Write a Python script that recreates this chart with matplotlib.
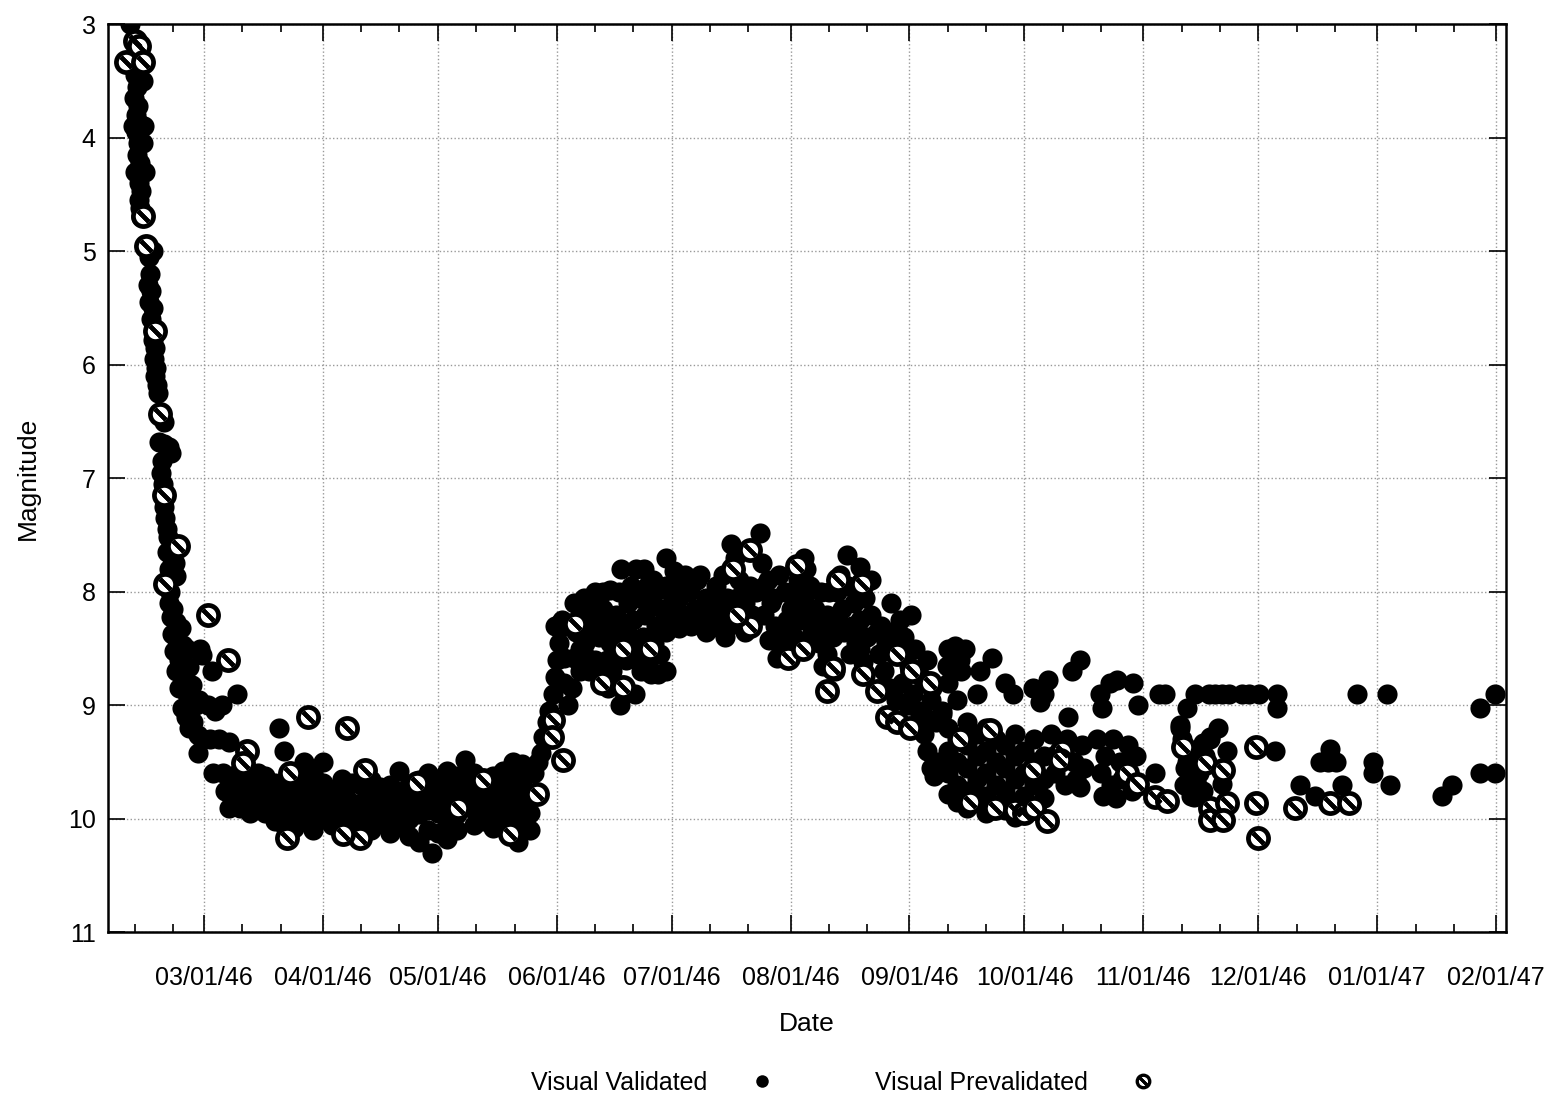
import numpy as np
import datetime
import matplotlib
matplotlib.use('Agg')
import matplotlib.pyplot as plt
import matplotlib.dates as mdates
from matplotlib.lines import Line2D

plt.rcParams['font.family'] = ['Liberation Sans', 'DejaVu Sans']

# data: t = days after 1946-02-01, mag = visual magnitude ---------------

# visual validated
val_t = [
    8.7, 10.0, 10.6, 9.8, 10.9, 10.2, 11.3, 10.4, 10.9, 10.6, 11.2, 10.8, 11.1, 11.5, 11.0, 11.4, 11.6,
    12.0, 12.3, 9.5, 12.5, 9.9, 12.2,
    12.8, 14.8, 13.6, 13.9, 13.5, 14.2, 13.8, 14.6, 14.1, 14.9,
    14.6, 15.3, 14.9, 15.6, 15.2, 15.8, 16.0, 17.5,
    16.3, 17.6, 18.8, 19.5, 17.0, 16.9, 17.4, 17.6, 17.9, 18.3, 18.6,
    18.3, 19.6, 20.4, 19.0, 20.8,
    18.6, 19.2, 18.8, 19.9, 19.3, 20.7, 22.0, 19.6, 21.0, 22.6, 20.2, 23.6, 21.6, 24.0, 20.6, 22.6,
    25.0, 21.6, 23.5, 24.6, 22.2, 26.0, 23.2, 25.2, 24.2, 26.5,
    27.0, 27.6, 30.0, 36.5, 26.8, 29.0, 31.0, 32.6,
    27.6, 29.6, 32.0, 34.6, 26.4, 30.4, 47.5, 48.8,
    33.0, 35.0, 37.0, 39.0, 41.0, 33.5, 36.0, 38.5, 41.0, 34.5, 37.5, 40.0, 43.0, 42.0,
    # plateau
    44, 44, 44, 46.5, 46.5, 46.5, 49, 49, 49, 51.5, 51.5, 51.5, 51.5,
    54, 54, 54, 54, 56.5, 56.5, 56.5, 56.5, 59, 59, 59, 59, 61.5, 61.5, 61.5,
    64, 64, 64, 64, 66.5, 66.5, 66.5, 69, 69, 69, 71.5, 71.5, 71.5, 71.5,
    74, 74, 74, 76.5, 76.5, 76.5, 76.5, 79, 79, 79, 79, 81.5, 81.5, 81.5, 81.5,
    84, 84, 84, 84, 86.5, 86.5, 86.5, 86.5, 87.5, 89, 89, 89, 89,
    91.5, 91.5, 91.5, 91.5, 91.5, 94, 94, 94, 94, 96, 96,
    98.5, 98.5, 98.5, 98.5, 101, 101, 101, 103.5, 103.5, 103.5, 103.5,
    106, 106, 106, 106, 108.5, 108.5, 108.5, 108.5, 108.5, 110, 111, 111, 111, 111,
    113, 113, 113, 113,
    45.3, 47.8, 50.3, 52.8, 55.3, 57.8, 60.3, 62.8, 65.3, 67.8, 70.3, 72.8, 75.3, 77.8,
    80.3, 82.8, 85.3, 87.8, 90.3, 92.8, 95.3, 97.8, 100.3, 102.8, 105.3, 107.8, 110.3, 112.3,
    # rise
    114, 115, 116, 116.5, 117.5, 118, 118.5, 119, 119.5, 120, 120.5, 119.5, 120.5, 121.5,
    122.5, 122, 124.5, 122, 124, 123, 124.5, 125, 126, 126,
    126.5, 128, 129.5, 131, 132.5, 134, 135.5, 127, 128.5, 130, 131.5, 133, 134.5, 136,
    129, 132, 135, 127.5, 133.5, 132.2, 134, 136.2, 136.8, 140.8, 142.8, 148.5, 136.5, 140.3,
    138.5, 140, 141.5, 143, 144.5, 146, 147.5, 139, 141, 142.5, 144, 145.5, 147, 148.5,
    142, 144.5, 146.5, 148.5, 139.5, 143.5, 146.5,
    148.5, 150, 151.5, 153, 154.5, 156, 157.5, 159, 149, 152, 155, 158, 150.5, 153.5, 156.5,
    160, 161.5, 163, 164.5, 166, 167.5, 169, 170.5, 161, 162.5, 165, 168, 163.5, 166.5, 165.5, 173.0,
    173.5, 175, 176.5, 178, 179.5, 181, 174, 177, 180, 175.5, 178.5, 177.5,
    183, 184.5, 186, 187.5, 189, 190.5, 183.5, 186.5, 189.5, 185, 184.6,
    188.5, 190.5, 192, 189.5, 192.5, 195.7, 199.1,
    193, 194.5, 196, 197.5, 199, 200.5, 202, 203.5, 195, 198, 201, 204, 196.5, 200, 193.5, 207.3,
    127, 130, 133, 137, 138, 140, 145, 150, 152, 155, 157, 159, 162, 164, 167, 169, 171,
    172, 174, 176, 179, 182, 182, 185, 188, 191, 194, 197, 199, 202,
    # decline from maximum
    204.5, 206, 207.5, 209, 210.5, 212, 213.5, 215, 216.5, 218, 205.5, 207, 208.5, 210, 211.5,
    213, 214.5, 216, 217.5, 219, 220.5, 209.5, 212.5,
    215.8, 216.5, 217.5, 218.5, 219.5,
    222, 224, 226.5, 225.2, 225.5, 221.8, 222, 230.4, 233.5, 229.6, 224.4, 220.5, 236.9, 239,
    244.2, 246, 248.1, 247, 254.4, 256.5, 253.4,
    264.3, 266.1, 261.7, 270.3, 271.6, 262.2, 277.0, 278.7, 282.6,
    222, 222, 222, 222, 224.5, 224.5, 224.5, 224.5, 227, 227, 227, 227, 227,
    229.5, 229.5, 229.5, 229.5, 232, 232, 232, 232, 232, 234.5, 234.5, 234.5, 234.5,
    237, 237, 237, 237, 239.5, 239.5, 239.5, 239.5, 239.5, 242, 242, 242, 242,
    244.5, 244.5, 244.5, 244.5, 247, 247, 247,
    249, 251, 253, 255, 257, 250, 252.5, 255.5, 257.5, 249.5, 256.5,
    261, 263, 265, 267, 269, 271, 262, 264.5, 267.5, 270, 262.5, 266, 276,
    283, 284.5, 286, 287.5, 289, 290.5, 283.5, 285.5, 288, 284,
    292.5, 290.4, 288.6, 294.9, 282.6, 285.5, 287.0, 293.6, 286.1, 288.6,
    # late scattered observations
    286.4, 290.1, 291.7, 293.5, 295.3, 298.7, 300.5, 303.3, 307.8, 284.4, 307.8,
    328.7, 336.6, 360.8, 364.7, 307.3, 313.9, 317.8, 321.7, 319.1, 321.2, 323.3, 324.8,
    332.9, 332.9, 337.3, 350.9, 353.5, 360.8, 364.7,
]
val_mag = [
    3.0, 3.45, 3.55, 3.65, 3.72, 3.8, 3.88, 3.95, 4.05, 4.15, 4.22, 4.3, 4.4, 4.47, 4.55, 4.62, 4.7,
    3.5, 3.9, 3.9, 4.3, 4.3, 4.05,
    4.95, 5.0, 5.05, 5.2, 5.3, 5.35, 5.45, 5.5, 5.6, 5.68,
    5.78, 5.85, 5.95, 6.03, 6.1, 6.18, 6.25, 6.5,
    6.68, 6.7, 6.72, 6.78, 6.85, 6.95, 7.05, 7.25, 7.35, 7.45, 7.52,
    7.65, 7.7, 7.75, 7.8, 7.86,
    7.92, 8.0, 8.1, 8.15, 8.22, 8.27, 8.32, 8.37, 8.42, 8.47, 8.52, 8.5, 8.6, 8.66, 8.7, 8.76,
    8.82, 8.85, 8.9, 8.96, 9.02, 9.0, 9.1, 9.15, 9.2, 9.26,
    8.5, 8.56, 8.7, 8.9, 8.95, 9.0, 9.05, 9.0,
    9.3, 9.3, 9.3, 9.32, 9.42, 9.6, 9.2, 9.4,
    9.6, 9.65, 9.6, 9.65, 9.7, 9.75, 9.8, 9.75, 9.85, 9.9, 9.9, 9.95, 9.8, 9.6,
    # plateau
    9.62, 9.78, 9.95, 9.68, 9.85, 10.02, 9.72, 9.9, 10.05, 9.65, 9.82, 9.98, 10.08,
    9.5, 9.7, 9.88, 10.02, 9.6, 9.8, 9.95, 10.1, 9.5, 9.68, 9.85, 10.0, 9.75, 9.9, 10.05,
    9.65, 9.82, 9.98, 10.12, 9.68, 9.86, 10.05, 9.7, 9.9, 10.02, 9.66, 9.8, 9.95, 10.1,
    9.72, 9.88, 10.04, 9.7, 9.85, 10.0, 10.12, 9.58, 9.78, 9.92, 10.06, 9.7, 9.85, 10.0, 10.15,
    9.66, 9.82, 9.96, 10.2, 9.6, 9.78, 9.92, 10.1, 10.3, 9.65, 9.8, 9.95, 10.12,
    9.58, 9.75, 9.9, 10.06, 10.18, 9.62, 9.8, 9.96, 10.1, 9.48, 9.68,
    9.6, 9.78, 9.92, 10.05, 9.7, 9.86, 10.02, 9.62, 9.8, 9.95, 10.08,
    9.58, 9.72, 9.88, 10.02, 9.5, 9.65, 9.82, 9.98, 10.12, 10.2, 9.52, 9.7, 9.88, 10.05,
    9.6, 9.78, 9.95, 10.1,
    9.88, 9.78, 9.95, 9.75, 9.62, 9.88, 9.78, 9.92, 9.72, 9.95, 9.82, 9.72, 9.95, 9.8,
    9.9, 9.76, 9.88, 9.72, 9.96, 9.7, 9.88, 9.72, 9.95, 9.72, 9.9, 9.76, 9.95, 9.85,
    # rise
    9.6, 9.5, 9.42, 9.28, 9.15, 9.05, 9.2, 8.9, 8.75, 8.6, 8.45, 8.3, 8.28, 8.25,
    8.3, 8.58, 8.58, 8.8, 8.85, 9.0, 8.1, 8.35, 8.5, 8.7,
    8.2, 8.35, 8.25, 8.4, 8.3, 8.45, 8.2, 8.55, 8.7, 8.6, 8.75, 8.6, 8.7, 8.55,
    8.15, 8.15, 8.35, 8.45, 8.85, 8.0, 7.98, 8.0, 7.8, 7.8, 7.8, 7.7, 9.0, 8.9,
    8.1, 8.25, 8.05, 8.2, 8.1, 8.3, 8.15, 8.4, 8.55, 8.4, 8.6, 8.45, 8.55, 8.35,
    8.7, 8.72, 8.72, 8.7, 7.95, 7.95, 7.98,
    7.95, 8.1, 7.9, 8.2, 8.0, 8.15, 7.85, 8.05, 8.25, 8.32, 8.3, 8.28, 7.82, 7.85, 7.9,
    8.15, 7.95, 8.25, 8.05, 8.2, 7.9, 8.1, 7.95, 8.3, 8.32, 8.3, 8.28, 7.85, 7.7, 7.58, 7.48,
    7.75, 7.9, 8.05, 7.85, 8.0, 8.15, 8.2, 8.3, 8.25, 8.42, 8.5, 8.58,
    7.9, 8.05, 7.95, 8.15, 8.0, 8.2, 8.25, 8.35, 8.3, 7.8, 7.7,
    8.45, 8.55, 8.4, 8.65, 8.7, 7.68, 7.78,
    8.0, 8.15, 7.95, 8.1, 8.25, 8.05, 8.2, 8.35, 8.35, 8.45, 8.4, 8.55, 8.55, 8.62, 8.25, 8.1,
    8.05, 8.0, 8.25, 8.3, 8.6, 8.45, 7.9, 8.3, 8.05, 7.95, 8.25, 8.35, 8.1, 8.4, 8.05, 8.35, 8.2,
    8.0, 7.95, 8.1, 8.35, 8.0, 8.4, 8.2, 8.3, 8.0, 7.85, 8.3, 8.5, 7.9,
    # decline from maximum
    8.3, 8.45, 8.35, 8.55, 8.4, 8.65, 8.5, 8.75, 8.6, 8.85, 8.7, 8.85, 8.95, 8.8, 9.0,
    8.9, 9.05, 9.1, 8.95, 9.15, 9.05, 8.25, 8.2,
    9.25, 9.4, 9.55, 9.62, 9.5,
    8.5, 8.48, 8.5, 8.6, 8.7, 8.65, 8.8, 8.7, 8.58, 8.9, 8.95, 9.08, 8.8, 8.9,
    8.85, 8.97, 8.78, 8.9, 8.7, 8.6, 9.1,
    8.8, 8.78, 8.9, 8.8, 9.0, 9.02, 8.9, 8.9, 9.17,
    9.2, 9.4, 9.6, 9.78, 9.3, 9.5, 9.7, 9.85, 9.15, 9.35, 9.55, 9.75, 9.9,
    9.25, 9.45, 9.65, 9.82, 9.2, 9.4, 9.6, 9.8, 9.95, 9.3, 9.5, 9.7, 9.88,
    9.35, 9.55, 9.75, 9.92, 9.25, 9.45, 9.65, 9.85, 9.98, 9.4, 9.6, 9.8, 9.95,
    9.3, 9.5, 9.7, 9.9, 9.45, 9.65, 9.82,
    9.25, 9.4, 9.3, 9.5, 9.35, 9.6, 9.7, 9.65, 9.55, 9.45, 9.72,
    9.3, 9.45, 9.3, 9.5, 9.35, 9.45, 9.6, 9.7, 9.65, 9.75, 9.8, 9.82, 9.6,
    9.3, 9.5, 9.4, 9.6, 9.45, 9.3, 9.7, 9.8, 9.75, 9.55,
    9.2, 9.28, 9.33, 9.4, 9.2, 9.6, 9.7, 9.69, 9.81, 9.75,
    # late scattered observations
    8.9, 8.9, 8.9, 8.9, 8.9, 8.9, 8.9, 8.9, 8.9, 9.02, 9.02,
    8.9, 8.9, 9.02, 8.9, 9.4, 9.7, 9.8, 9.38, 9.5, 9.5, 9.5, 9.7,
    9.5, 9.6, 9.7, 9.8, 9.7, 9.6, 9.6,
]

# visual prevalidated
pre_t = [
    10.0, 11.0, 7.7, 12.0, 12.1, 12.9, 15.2, 16.5, 17.6, 21.2, 17.8,
    29.0, 34.3, 39.2, 38.2, 55.1, 65.3, 49.6, 68.7,
    50.4, 70.0, 83.6, 100.8, 107.8, 94.2, 64.3, 114.8, 119.0, 121.6,
    118.8, 124.8, 131.8, 137.3, 144.3, 137.3, 166.0, 170.4, 170.4, 167.0,
    180.3, 184.2, 182.6, 190.5, 192.1, 193.3, 199.6, 199.9, 208.7, 203.5,
    206.1, 208.7, 212.1, 217.3, 212.6,
    227.8, 234.3, 239.5, 242.0, 244.5, 247.9, 251.8, 268.7, 271.3, 276.0, 279.2,
    225.2, 233.0, 244.2, 251.3,
    283.4, 289.1, 293.8, 290.4, 294.8, 290.4, 293.8, 302.3, 302.3, 302.8, 312.5, 321.6, 326.6,
]
pre_mag = [
    3.15, 3.19, 3.33, 3.33, 4.69, 4.95, 5.7, 6.43, 7.15, 7.6, 7.93,
    8.2, 8.6, 9.4, 9.51, 9.1, 9.2, 10.17, 10.17,
    9.6, 9.57, 9.68, 9.66, 10.13, 9.9, 10.13, 9.78, 9.13, 9.48,
    9.28, 8.28, 8.8, 8.84, 8.5, 8.5, 7.8, 7.63, 8.3, 8.2,
    8.58, 8.5, 7.77, 8.87, 8.67, 7.9, 7.93, 8.72, 8.55, 8.87,
    9.1, 9.15, 9.2, 8.8, 8.7,
    9.85, 9.9, 9.92, 9.95, 9.9, 10.02, 9.4, 9.6, 9.69, 9.81, 9.84,
    9.3, 9.22, 9.57, 9.48,
    9.37, 9.51, 9.57, 9.9, 9.86, 10.01, 10.01, 9.37, 9.86, 10.17, 9.9, 9.86, 9.86,
]

# plot ----------------------------------------------------------------

base = mdates.date2num(datetime.datetime(1946, 2, 1))
vx = base + np.array(val_t)
px = base + np.array(pre_t)

fig = plt.figure(figsize=(15.44, 10.97), dpi=100)
ax = fig.add_axes([0.070, 0.150, 0.9054, 0.828])

ax.plot(vx, val_mag, 'o', color='black', ms=14.5, mew=0, linestyle='none')
ax.plot(px, pre_mag, 'o', mfc='white', mec='black', mew=3.4, ms=14.5, linestyle='none')
ax.plot(px, pre_mag, marker=(2, 2, 45), color='black', mew=3.0, ms=11, linestyle='none')

ax.set_ylim(11, 3)
ax.set_xlim(base + 3.0, base + 367.6)
ax.set_yticks(np.arange(3, 12, 1))

ax.xaxis.set_major_locator(mdates.MonthLocator(bymonthday=1))
ax.xaxis.set_minor_locator(mdates.DayLocator(bymonthday=[11, 21]))
ax.xaxis.set_major_formatter(mdates.DateFormatter('%m/%d/%y'))

ax.grid(True, which='major', linestyle=':', color='#999999', linewidth=1.0)
ax.tick_params(which='both', direction='in', top=True, right=True, labelsize=18, width=1.2)
ax.tick_params(which='major', length=12)
ax.tick_params(which='minor', length=6)
ax.tick_params(axis='x', pad=24)
ax.tick_params(axis='y', pad=9)
for s in ax.spines.values():
    s.set_linewidth(1.8)

ax.set_xlabel('Date', fontsize=19, labelpad=16)
ax.set_ylabel('Magnitude', fontsize=19, labelpad=20)

h1 = Line2D([], [], marker='o', color='black', ms=9, mew=0, linestyle='none')
h2 = Line2D([], [], marker='o', mfc='white', mec='black', mew=2.4, ms=9, linestyle='none')
h3 = Line2D([], [], marker=(2, 2, 45), color='black', mew=2.0, ms=7, linestyle='none')
fig.legend([h1, (h2, h3)], ['Visual Validated', 'Visual Prevalidated'],
           loc='center', bbox_to_anchor=(0.550, 0.013), ncol=2, frameon=False,
           markerfirst=False, fontsize=18, handlelength=2.0, handletextpad=1.2,
           columnspacing=3.5)

fig.savefig('out.png', dpi=100)
